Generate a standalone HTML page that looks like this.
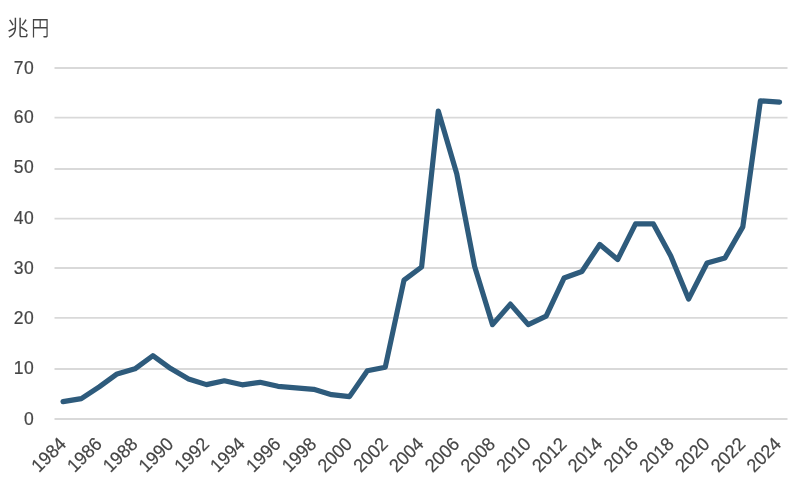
<!DOCTYPE html>
<html lang="ja"><head><meta charset="utf-8"><title>chart</title>
<style>
html,body{margin:0;padding:0;background:#fff;}
body{width:800px;height:484px;overflow:hidden;}
svg{display:block;}
text{font-family:"Liberation Sans","Noto Sans CJK JP",sans-serif;fill:#454545;stroke:#454545;stroke-width:0.2px;}
.jp{stroke:none;font-family:"Noto Sans CJK JP","Liberation Sans",sans-serif;}
</style></head>
<body>
<svg width="800" height="484" viewBox="0 0 800 484">
<rect width="800" height="484" fill="#ffffff"/>
<line x1="54.50" y1="419.00" x2="787.50" y2="419.00" stroke="#d9d9d9" stroke-width="1.9"/>
<line x1="54.50" y1="369.00" x2="787.50" y2="369.00" stroke="#d9d9d9" stroke-width="1.9"/>
<line x1="54.50" y1="317.90" x2="787.50" y2="317.90" stroke="#d9d9d9" stroke-width="1.9"/>
<line x1="54.50" y1="268.00" x2="787.50" y2="268.00" stroke="#d9d9d9" stroke-width="1.9"/>
<line x1="54.50" y1="218.60" x2="787.50" y2="218.60" stroke="#d9d9d9" stroke-width="1.9"/>
<line x1="54.50" y1="169.00" x2="787.50" y2="169.00" stroke="#d9d9d9" stroke-width="1.9"/>
<line x1="54.50" y1="117.60" x2="787.50" y2="117.60" stroke="#d9d9d9" stroke-width="1.9"/>
<line x1="54.50" y1="68.00" x2="787.50" y2="68.00" stroke="#d9d9d9" stroke-width="1.9"/>
<text transform="translate(34.27,424.70) scale(0.940,1.000)" font-size="18.67" text-anchor="end" letter-spacing="0.50">0</text>
<text transform="translate(34.27,373.63) scale(0.940,1.000)" font-size="18.67" text-anchor="end" letter-spacing="0.50">10</text>
<text transform="translate(34.27,324.36) scale(0.940,1.000)" font-size="18.67" text-anchor="end" letter-spacing="0.50">20</text>
<text transform="translate(34.27,274.19) scale(0.940,1.000)" font-size="18.67" text-anchor="end" letter-spacing="0.50">30</text>
<text transform="translate(34.27,224.02) scale(0.940,1.000)" font-size="18.67" text-anchor="end" letter-spacing="0.50">40</text>
<text transform="translate(34.27,173.30) scale(0.940,1.000)" font-size="18.67" text-anchor="end" letter-spacing="0.50">50</text>
<text transform="translate(34.27,123.28) scale(0.940,1.000)" font-size="18.67" text-anchor="end" letter-spacing="0.50">60</text>
<text transform="translate(34.27,73.71) scale(0.940,1.000)" font-size="18.67" text-anchor="end" letter-spacing="0.50">70</text>
<text class="jp" transform="translate(7.2,35.0) scale(1,0.98)" font-size="21.33" font-weight="350">兆<tspan dx="2.7" textLength="18" lengthAdjust="spacingAndGlyphs">円</tspan></text>
<text transform="translate(67.19,445.10) rotate(-45) scale(0.957,1.000)" font-size="18.67" text-anchor="end">1984</text>
<text transform="translate(102.95,445.10) rotate(-45) scale(0.957,1.000)" font-size="18.67" text-anchor="end">1986</text>
<text transform="translate(138.70,445.10) rotate(-45) scale(0.957,1.000)" font-size="18.67" text-anchor="end">1988</text>
<text transform="translate(174.46,445.10) rotate(-45) scale(0.957,1.000)" font-size="18.67" text-anchor="end">1990</text>
<text transform="translate(210.21,445.10) rotate(-45) scale(0.957,1.000)" font-size="18.67" text-anchor="end">1992</text>
<text transform="translate(245.97,445.10) rotate(-45) scale(0.957,1.000)" font-size="18.67" text-anchor="end">1994</text>
<text transform="translate(281.73,445.10) rotate(-45) scale(0.957,1.000)" font-size="18.67" text-anchor="end">1996</text>
<text transform="translate(317.48,445.10) rotate(-45) scale(0.957,1.000)" font-size="18.67" text-anchor="end">1998</text>
<text transform="translate(353.24,445.10) rotate(-45) scale(0.957,1.000)" font-size="18.67" text-anchor="end">2000</text>
<text transform="translate(388.99,445.10) rotate(-45) scale(0.957,1.000)" font-size="18.67" text-anchor="end">2002</text>
<text transform="translate(424.75,445.10) rotate(-45) scale(0.957,1.000)" font-size="18.67" text-anchor="end">2004</text>
<text transform="translate(460.51,445.10) rotate(-45) scale(0.957,1.000)" font-size="18.67" text-anchor="end">2006</text>
<text transform="translate(496.26,445.10) rotate(-45) scale(0.957,1.000)" font-size="18.67" text-anchor="end">2008</text>
<text transform="translate(532.02,445.10) rotate(-45) scale(0.957,1.000)" font-size="18.67" text-anchor="end">2010</text>
<text transform="translate(567.77,445.10) rotate(-45) scale(0.957,1.000)" font-size="18.67" text-anchor="end">2012</text>
<text transform="translate(603.53,445.10) rotate(-45) scale(0.957,1.000)" font-size="18.67" text-anchor="end">2014</text>
<text transform="translate(639.29,445.10) rotate(-45) scale(0.957,1.000)" font-size="18.67" text-anchor="end">2016</text>
<text transform="translate(675.04,445.10) rotate(-45) scale(0.957,1.000)" font-size="18.67" text-anchor="end">2018</text>
<text transform="translate(710.80,445.10) rotate(-45) scale(0.957,1.000)" font-size="18.67" text-anchor="end">2020</text>
<text transform="translate(746.55,445.10) rotate(-45) scale(0.957,1.000)" font-size="18.67" text-anchor="end">2022</text>
<text transform="translate(782.31,445.10) rotate(-45) scale(0.957,1.000)" font-size="18.67" text-anchor="end">2024</text>
<polyline points="63.04,401.66 81.32,398.65 99.20,386.92 117.07,373.88 134.95,368.87 152.83,355.74 170.71,368.52 188.59,378.90 206.46,384.61 224.34,380.80 242.22,384.81 260.10,382.31 277.98,386.32 295.85,387.82 313.73,389.32 331.61,394.64 349.49,396.64 367.37,370.78 385.24,367.27 404.02,280.04 421.60,267.01 438.28,111.11 456.76,173.77 474.63,266.51 492.51,324.66 510.39,304.11 528.27,324.66 546.15,316.14 564.02,278.04 581.90,271.52 599.78,244.45 617.66,259.49 635.54,223.90 653.41,223.90 670.79,255.98 688.57,299.09 707.05,263.00 724.93,257.99 742.80,226.91 760.38,100.83 779.56,102.09" fill="none" stroke="#2e5b7c" stroke-width="5.2" stroke-linecap="round" stroke-linejoin="round"/>
</svg>
</body></html>
